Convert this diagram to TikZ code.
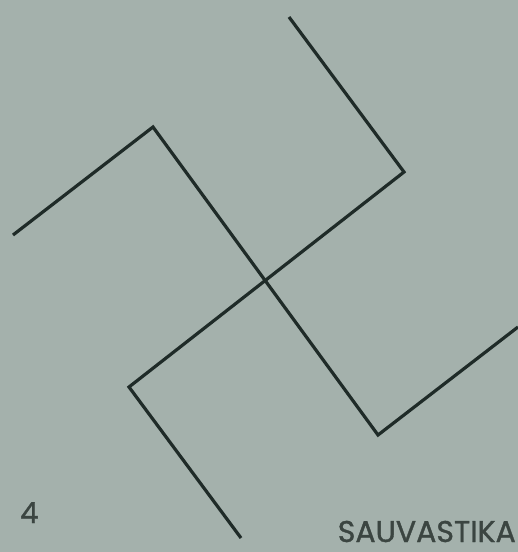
\documentclass[tikz,border=0pt]{standalone}
\usepackage{fontspec}
\setmainfont{Poppins}[FakeBold=1.2]
\definecolor{bg}{HTML}{A4B1AC}
\definecolor{ink}{HTML}{1F2B28}
\definecolor{txt}{HTML}{3B4541}
\tikzset{stroke/.style={draw=ink,line width=3.2pt,line join=miter,line cap=butt}}
\begin{document}
\begin{tikzpicture}[x=1pt,y=-1pt]
\fill[bg] (0,0) rectangle (518,552);
\useasboundingbox (0,0) rectangle (518,552);
% arm A
\coordinate (a1) at (13,235);
\coordinate (a2) at (153,127);
\coordinate (a3) at (378,435);
\coordinate (a4) at (518,327);
% arm B
\coordinate (b1) at (289,17);
\coordinate (b2) at (404,172);
\coordinate (b3) at (129,387);
\coordinate (b4) at (241,538);
\draw[stroke] (a1) -- (a2) -- (a3) -- (a4);
\draw[stroke] (b1) -- (b2) -- (b3) -- (b4);
\node[anchor=base west,inner sep=0pt,text=txt,font=\fontsize{29}{29}\selectfont] (num) at (20,523) {4};
\node[anchor=base east,inner sep=0pt,text=txt,font=\fontsize{30}{30}\selectfont] (lbl) at (516,542) {SAUVASTIKA};
\end{tikzpicture}
\end{document}
